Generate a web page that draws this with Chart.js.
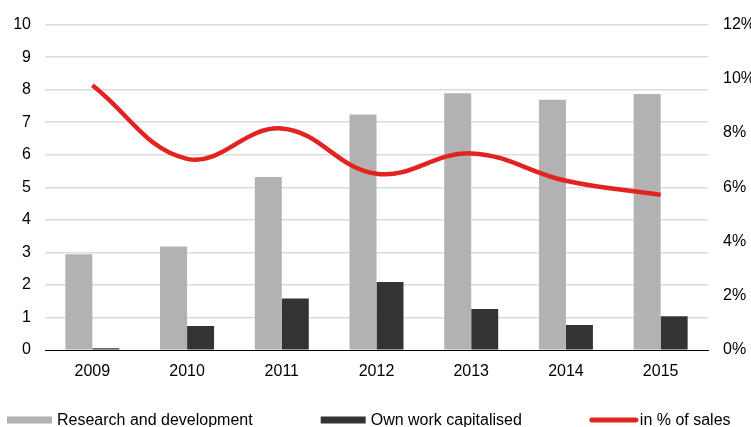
<!DOCTYPE html>
<html>
<head>
<meta charset="utf-8">
<script src="https://cdn.jsdelivr.net/npm/chart.js@4/dist/chart.umd.min.js"></script>
<style>
  html, body { margin: 0; padding: 0; background: #fff; }
  #wrap { width: 751px; height: 427px; }
</style>
</head>
<body>
<div id="wrap"><canvas id="chart"></canvas></div>
<script>
// data
const years = ['2009', '2010', '2011', '2012', '2013', '2014', '2015'];
const researchDev = [2.94, 3.18, 5.32, 7.24, 7.89, 7.69, 7.87];
const ownWork = [0.05, 0.74, 1.58, 2.09, 1.26, 0.77, 1.04];
const pctOfSales = [9.76, 7.05, 8.17, 6.5, 7.25, 6.24, 5.72];

const FONT = 'Liberation Sans, Arial, Helvetica, sans-serif';
const GREY = '#b2b2b2';
const DARK = '#333333';
const RED = '#e2231f';

// legend drawn in the bottom strip, items spaced like the original
const bottomLegend = {
    id: 'bottomLegend',
    afterDraw(chart) {
        const ctx = chart.ctx;
        ctx.save();
        ctx.font = '16px ' + FONT;
        ctx.textBaseline = 'middle';
        const y = 420;
        let x = 7;
        chart.data.datasets.forEach(ds => {
            if (ds.type === 'line') {
                ctx.strokeStyle = ds.borderColor;
                ctx.lineWidth = 5;
                ctx.lineCap = 'round';
                ctx.beginPath();
                ctx.moveTo(x + 2, y);
                ctx.lineTo(x + 46, y);
                ctx.stroke();
            } else {
                ctx.fillStyle = ds.backgroundColor;
                ctx.fillRect(x, y - 3.5, 45, 7);
            }
            ctx.fillStyle = '#000';
            ctx.fillText(ds.label, x + 50, y + 1);
            x += 50 + ctx.measureText(ds.label).width + 68;
        });
        ctx.restore();
    }
};

new Chart(document.getElementById('chart'), {
    data: {
        labels: years,
        datasets: [{
            type: 'bar',
            label: 'Research and development',
            data: researchDev,
            backgroundColor: GREY,
            yAxisID: 'y',
            order: 2,
            categoryPercentage: 0.57,
            barPercentage: 1
        }, {
            type: 'bar',
            label: 'Own work capitalised',
            data: ownWork,
            backgroundColor: DARK,
            yAxisID: 'y',
            order: 2,
            categoryPercentage: 0.57,
            barPercentage: 1
        }, {
            type: 'line',
            label: 'in % of sales',
            data: pctOfSales,
            borderColor: RED,
            backgroundColor: RED,
            borderWidth: 4.5,
            tension: 0.4,
            pointRadius: 0,
            yAxisID: 'y1',
            order: 1
        }]
    },
    options: {
        responsive: true,
        maintainAspectRatio: false,
        animation: false,
        layout: { padding: { top: 23, bottom: 37, left: 0, right: 0 } },
        plugins: {
            legend: { display: false },
            tooltip: { enabled: false }
        },
        scales: {
            x: {
                grid: { display: false, drawTicks: false },
                border: { display: true, color: '#000', width: 1 },
                ticks: { color: '#000', font: { family: FONT, size: 16 }, padding: 12 },
                afterFit(scale) { scale.height = 40; }
            },
            y: {
                position: 'left',
                min: 0,
                max: 10,
                ticks: { stepSize: 1, color: '#000', font: { family: FONT, size: 16 }, padding: 14 },
                grid: {
                    drawTicks: false,
                    color: c => c.tick && c.tick.value === 0 ? '#000' : '#dcdcdc',
                    lineWidth: c => c.tick && c.tick.value === 0 ? 1 : 1.5
                },
                border: { display: false },
                afterFit(scale) { scale.width = 45; }
            },
            y1: {
                position: 'right',
                min: 0,
                max: 12,
                ticks: {
                    stepSize: 2,
                    color: '#000',
                    font: { family: FONT, size: 16 },
                    padding: 15,
                    callback: v => v + '%'
                },
                grid: { display: false, drawTicks: false },
                border: { display: false },
                afterFit(scale) { scale.width = 43; }
            }
        }
    },
    plugins: [bottomLegend]
});
</script>
</body>
</html>
